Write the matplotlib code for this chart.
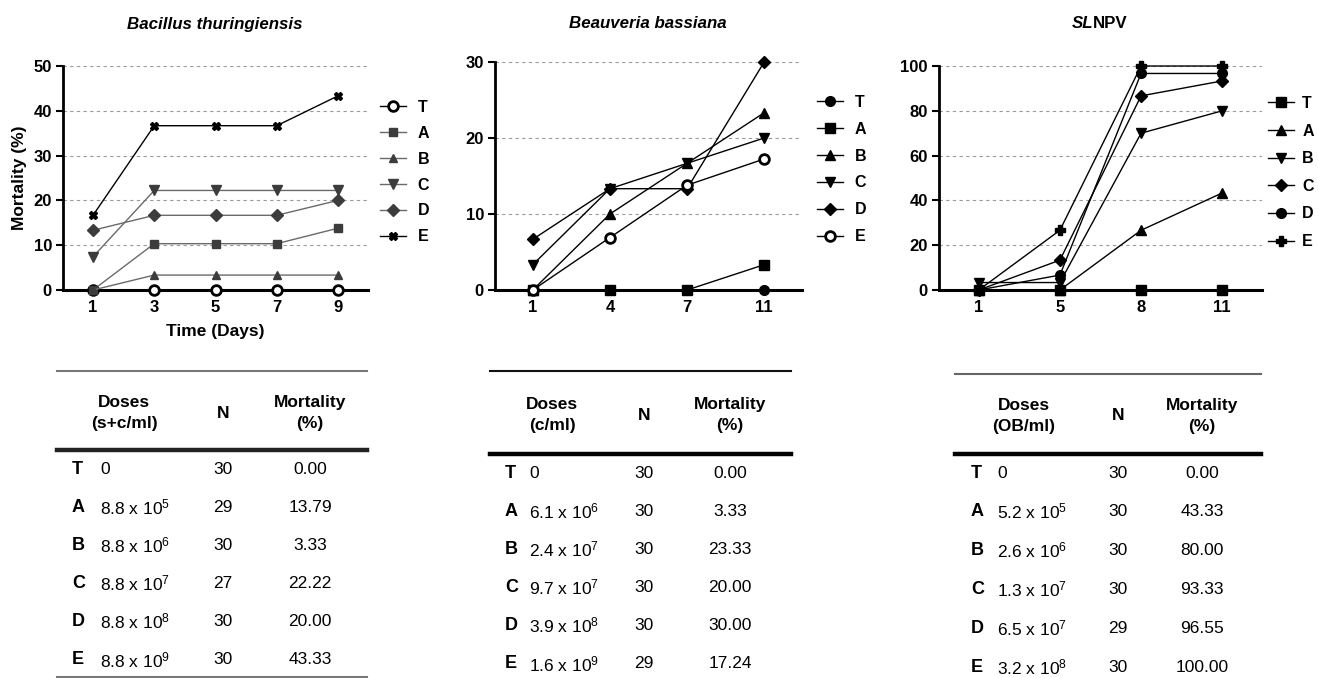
import numpy as np
import matplotlib
matplotlib.use("Agg")
import matplotlib.pyplot as plt
from matplotlib.lines import Line2D

W, H = 1318, 678

# ---- chart data ----
bt_days = ["1", "3", "5", "7", "9"]
bt_T = [0, 0, 0, 0, 0]
bt_A = [0, 10.34, 10.34, 10.34, 13.79]
bt_B = [0, 3.33, 3.33, 3.33, 3.33]
bt_C = [7.41, 22.22, 22.22, 22.22, 22.22]
bt_D = [13.33, 16.67, 16.67, 16.67, 20.0]
bt_E = [16.67, 36.67, 36.67, 36.67, 43.33]

bb_days = ["1", "4", "7", "11"]
bb_T = [0, 0, 0, 0]
bb_A = [0, 0, 0, 3.33]
bb_B = [0, 10.0, 16.67, 23.33]
bb_C = [3.33, 13.33, 16.67, 20.0]
bb_D = [6.67, 13.33, 13.33, 30.0]
bb_E = [0, 6.9, 13.79, 17.24]

np_days = ["1", "5", "8", "11"]
np_T = [0, 0, 0, 0]
np_A = [0, 0, 26.67, 43.33]
np_B = [3.33, 3.33, 70.0, 80.0]
np_C = [0, 13.33, 86.67, 93.33]
np_D = [0, 6.67, 96.67, 96.67]
np_E = [0, 26.67, 100.0, 100.0]

# ---- table data ----
letters = ["T", "A", "B", "C", "D", "E"]
bt_dose = ["0", "8.8 x 10$^{5}$", "8.8 x 10$^{6}$", "8.8 x 10$^{7}$", "8.8 x 10$^{8}$", "8.8 x 10$^{9}$"]
bt_n = [30, 29, 30, 27, 30, 30]
bt_mort = [0.00, 13.79, 3.33, 22.22, 20.00, 43.33]
bb_dose = ["0", "6.1 x 10$^{6}$", "2.4 x 10$^{7}$", "9.7 x 10$^{7}$", "3.9 x 10$^{8}$", "1.6 x 10$^{9}$"]
bb_n = [30, 30, 30, 30, 30, 29]
bb_mort = [0.00, 3.33, 23.33, 20.00, 30.00, 17.24]
np_dose = ["0", "5.2 x 10$^{5}$", "2.6 x 10$^{6}$", "1.3 x 10$^{7}$", "6.5 x 10$^{7}$", "3.2 x 10$^{8}$"]
np_n = [30, 30, 30, 30, 29, 30]
np_mort = [0.00, 43.33, 80.00, 93.33, 96.55, 100.00]

plt.rcParams["font.family"] = ["Liberation Sans", "DejaVu Sans"]
plt.rcParams["mathtext.fontset"] = "custom"
plt.rcParams["mathtext.rm"] = "Liberation Sans"
plt.rcParams["mathtext.it"] = "Liberation Sans:italic"
plt.rcParams["mathtext.bf"] = "Liberation Sans:bold"
TFS = 12.5   # table font size

fig = plt.figure(figsize=(W / 100, H / 100), dpi=100)


def fx(px):
    return px / W


def fy(py):
    return 1 - py / H


def make_axes(left, right, top, bottom, ymax, ystep, days):
    ax = fig.add_axes([fx(left), fy(bottom), fx(right - left), (bottom - top) / H])
    ax.set_xlim(-0.49, len(days) - 0.51)
    ax.set_ylim(0, ymax)
    ax.set_xticks(np.arange(len(days)))
    ax.set_xticklabels(days)
    ax.set_yticks(np.arange(0, ymax + 1, ystep))
    for s in ("top", "right"):
        ax.spines[s].set_visible(False)
    ax.spines["left"].set_linewidth(2)
    ax.spines["bottom"].set_linewidth(2.2)
    ax.tick_params(axis="y", length=5, width=1.5, pad=3, labelsize=12)
    ax.tick_params(axis="x", length=0, pad=7, labelsize=12)
    for lab in ax.get_xticklabels() + ax.get_yticklabels():
        lab.set_fontweight("bold")
    for v in np.arange(ystep, ymax + 1, ystep):
        ax.axhline(v, color="#9a9a9a", lw=0.8, ls=(0, (3, 3)), zorder=0)
    return ax


def series(ax, vals, marker, ms, color="black", lc="black", mfc=None, mew=1.0, label=""):
    x = np.arange(len(vals))
    ax.plot(x, vals, color=lc, lw=1.0, marker=marker, ms=ms, mfc=mfc or color,
            mec=color, mew=mew, clip_on=False, label=label, zorder=3)


def legend(ax, x_px, y_px, spacing=0.75, textpad=0.75):
    ax.legend(loc="upper left", bbox_to_anchor=(fx(x_px), fy(y_px)), bbox_transform=fig.transFigure,
              frameon=False, prop={"weight": "bold", "size": 11.5}, handlelength=1.6,
              handletextpad=textpad, labelspacing=spacing, borderpad=0, borderaxespad=0)


# ---- panel 1: Bacillus thuringiensis ----
ax1 = make_axes(63, 368, 66, 290, 50, 10, bt_days)
g, gl = "#3c3c3c", "#6a6a6a"
series(ax1, bt_T, "o", 7, mfc="white", mew=2.0, label="T")
series(ax1, bt_A, "s", 5.5, color=g, lc=gl, label="A")
series(ax1, bt_B, "^", 5.5, color=g, lc=gl, label="B")
series(ax1, bt_C, "v", 7.5, color=g, lc=gl, label="C")
series(ax1, bt_D, "D", 6.5, color=g, lc=gl, label="D")
series(ax1, bt_E, "X", 6, label="E")
ax1.set_ylabel("Mortality (%)", fontsize=12.5, fontweight="bold")
ax1.yaxis.set_label_coords(-0.118, 0.5)
ax1.set_xlabel("Time (Days)", fontsize=12.5, fontweight="bold", labelpad=7)
legend(ax1, 380, 100, 0.68)
fig.text(fx(215), fy(24), "Bacillus thuringiensis", ha="center", va="center",
         fontsize=12.2, fontweight="bold", style="italic")

# ---- panel 2: Beauveria bassiana ----
ax2 = make_axes(495, 802, 62, 290, 30, 10, bb_days)
series(ax2, bb_T, "o", 7, label="T")
series(ax2, bb_A, "s", 7, label="A")
series(ax2, bb_B, "^", 7, label="B")
series(ax2, bb_C, "v", 7, label="C")
series(ax2, bb_D, "D", 6.5, label="D")
series(ax2, bb_E, "o", 7, mfc="white", mew=2.0, label="E")
legend(ax2, 817, 95, 0.74)
fig.text(fx(648), fy(24), "Beauveria bassiana", ha="center", va="center",
         fontsize=12.2, fontweight="bold", style="italic")

# ---- panel 3: SLNPV ----
ax3 = make_axes(939, 1262, 66, 290, 100, 20, np_days)
series(ax3, np_T, "s", 7, label="T")
series(ax3, np_A, "^", 7, label="A")
series(ax3, np_B, "v", 7, label="B")
series(ax3, np_C, "D", 6.5, label="C")
series(ax3, np_D, "o", 7, label="D")
series(ax3, np_E, "P", 7, label="E")
legend(ax3, 1268, 96, 0.79, 0.55)
fig.text(fx(1093), fy(24), "SL", ha="right", va="center", fontsize=12.2, fontweight="bold", style="italic")
fig.text(fx(1093), fy(24), "NPV", ha="left", va="center", fontsize=12.2, fontweight="bold")


# ---- tables ----
def table(left, right, top_y, top_c, thick_y, thick_c, bot_y, head_y, row0, dy,
          col_let, col_dose, col_n, col_m, col_head, unit, dose, n, mort):
    fig.add_artist(Line2D([fx(left), fx(right)], [fy(top_y)] * 2, color=top_c, lw=1.5))
    fig.add_artist(Line2D([fx(left), fx(right)], [fy(thick_y)] * 2, color=thick_c, lw=3.2))
    if bot_y is not None:
        fig.add_artist(Line2D([fx(left), fx(right)], [fy(bot_y)] * 2, color=top_c, lw=1.5))
    fig.text(fx(left + col_head), fy(head_y), "Doses\n" + unit, ha="center", va="center",
             fontsize=TFS, fontweight="bold", linespacing=1.5)
    fig.text(fx(left + col_n), fy(head_y), "N", ha="center", va="center",
             fontsize=TFS, fontweight="bold")
    fig.text(fx(left + col_m), fy(head_y), "Mortality\n(%)", ha="center", va="center",
             fontsize=TFS, fontweight="bold", linespacing=1.5)
    for i, let in enumerate(letters):
        y = fy(row0 + i * dy)
        fig.text(fx(left + col_let), y, let, ha="left", va="center", fontsize=13, fontweight="bold")
        fig.text(fx(left + col_dose), y, dose[i], ha="left", va="center", fontsize=TFS)
        fig.text(fx(left + col_n), y, str(n[i]), ha="center", va="center", fontsize=TFS)
        fig.text(fx(left + col_m), y, f"{mort[i]:.2f}", ha="center", va="center", fontsize=TFS)


table(57, 367, 371, "#777777", 450, "#222222", 677, 413, 469, 38.2,
      15, 43, 166, 253, 67, "(s+c/ml)", bt_dose, bt_n, bt_mort)
table(490, 791, 371, "#111111", 454, "#000000", None, 415, 473, 38.2,
      15, 39, 154, 240, 62, "(c/ml)", bb_dose, bb_n, bb_mort)
table(955, 1261, 374, "#666666", 454, "#000000", None, 416, 473, 38.8,
      16, 42, 163, 247, 69, "(OB/ml)", np_dose, np_n, np_mort)

fig.savefig("out.png", dpi=100)
